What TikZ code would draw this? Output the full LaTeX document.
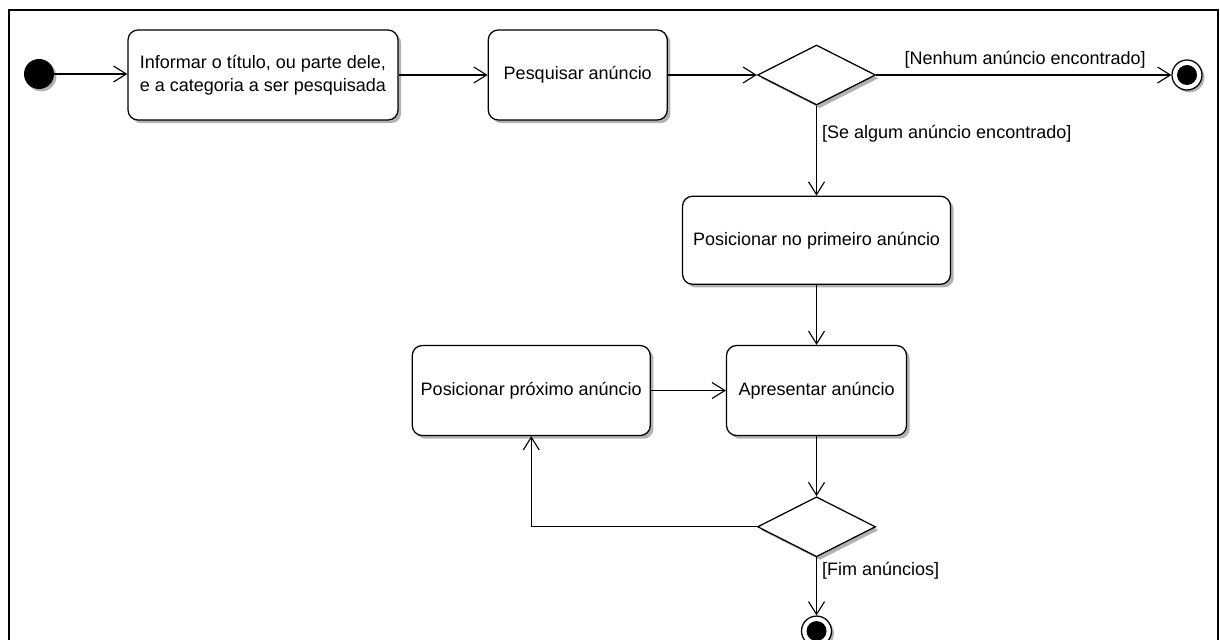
\documentclass[tikz,border=0pt]{standalone}
\usepackage{fontspec}
\setmainfont{Liberation Sans}
\usetikzlibrary{positioning}
\usetikzlibrary{arrows.meta}
\usetikzlibrary{calc}
\usetikzlibrary{shapes.geometric}
\usetikzlibrary{shadows}

\begin{document}
\begin{tikzpicture}[
    font=\fontsize{12.8}{16.5}\selectfont,
    block/.style={align=left, rectangle, rounded corners=0.25cm, draw=black, line width=0.9pt, fill=white, minimum height=2.25cm, inner sep=0.1cm, drop shadow={shadow xshift=0.08cm, shadow yshift=-0.08cm, fill=black!30, opacity=1}},
    decision/.style={diamond, draw=black, line width=0.9pt, fill=white, minimum width=2.95cm, minimum height=1.5cm, inner sep=0pt, drop shadow={shadow xshift=0.08cm, shadow yshift=-0.08cm, fill=black!30, opacity=1}},
    startnode/.style={circle, fill=black, minimum size=0.75cm, inner sep=0pt, drop shadow={shadow xshift=0.06cm, shadow yshift=-0.06cm, fill=black!30, opacity=1}},
    endnode/.style={circle, draw=black, line width=0.9pt, fill=white, minimum size=0.75cm, inner sep=0pt, drop shadow={shadow xshift=0.06cm, shadow yshift=-0.06cm, fill=black!30, opacity=1}},
    flow/.style={line width=0.8pt, -{Straight Barb[length=0.32cm, width=0.4cm, line width=0.8pt]}},
    guard/.style={inner sep=1pt}
]
    \useasboundingbox (0,0) rectangle (30.5,-16);

    % Frame
    \draw[line width=1.8pt] (0.225,-16.5) -- (0.225,-0.25) -- (30.45,-0.25) -- (30.45,-16.5);

    % Search
    \node[startnode] (S) at (0.975,-1.85) {};
    \node[block, minimum width=6.75cm] (A1) at (6.575,-1.875) {Informar o título, ou parte dele,\\e a categoria a ser pesquisada};
    \node[block, minimum width=4.475cm] (A2) [right=2.225cm of A1] {Pesquisar anúncio};
    \node[decision] (D1) [right=2.225cm of A2] {};
    \node[endnode] (E1) at (29.675,-1.875) {};
    \fill[black] (E1) circle (0.25cm);

    % Results
    \node[block, minimum width=6.7cm, minimum height=2.2cm] (A3) [below=2.25cm of D1] {Posicionar no primeiro anúncio};
    \node[block, minimum width=4.5cm] (A5) [below=1.5cm of A3] {Apresentar anúncio};
    \node[block, minimum width=5.95cm] (A4) [left=1.875cm of A5] {Posicionar próximo anúncio};
    \node[decision] (D2) [below=1.5cm of A5] {};
    \node[endnode] (E2) [below=1.45cm of D2] {};
    \fill[black] (E2) circle (0.25cm);

    % Transitions
    \draw[flow] (S) -- (S -| A1.west);
    \draw[flow] (A1) -- (A2);
    \draw[flow] (A2) -- (D1);
    \draw[flow] (D1) -- (E1);
    \draw[flow] (D1) -- (A3);
    \draw[flow] (A3) -- (A5);
    \draw[flow] (A4) -- (A5);
    \draw[flow] (A5) -- (D2);
    \draw[flow] (D2.west) -| (A4.south);
    \draw[flow] (D2) -- (E2);

    % Guards
    \node[guard] (G1) at ($(D1.east)+(3.725,0.375)$) {[Nenhum anúncio encontrado]};
    \node[guard, anchor=west] (G2) at ($(D1.south)+(0.1,-0.7)$) {[Se algum anúncio encontrado]};
    \node[guard, anchor=west] (G3) at ($(D2.south)+(0.1,-0.325)$) {[Fim anúncios]};
\end{tikzpicture}
\end{document}
